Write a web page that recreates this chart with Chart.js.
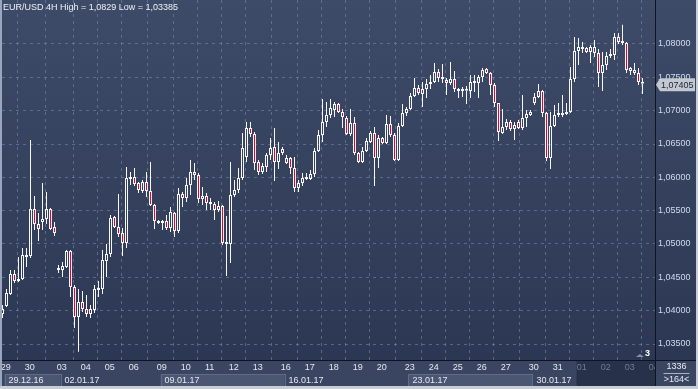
<!DOCTYPE html>
<html>
<head>
<meta charset="utf-8">
<script src="https://cdn.jsdelivr.net/npm/chart.js@4"></script>
<style>
  html, body { margin: 0; padding: 0; background: #c9ced6; }
  #wrap { position: absolute; left: 0; top: 0; width: 694px; height: 386px; border-left: 2px solid #9aa6bd; }
  canvas { display: block; }
</style>
</head>
<body>
<div id="wrap"><canvas id="eurusd" width="694" height="386"></canvas></div>
<script>
// EUR/USD 4H candles
var opens = [
  1.0395, 1.0407, 1.0425, 1.0455, 1.04445, 1.04475, 1.04835, 1.0482, 1.05525, 1.053,
  1.0533, 1.05375, 1.05525, 1.05255, 1.0461, 1.0461, 1.04655, 1.04895, 1.04355, 1.03905,
  1.0413, 1.04025, 1.0395, 1.0401, 1.0431, 1.04325, 1.04745, 1.0485, 1.05405, 1.05255,
  1.05165, 1.05015, 1.05975, 1.06005, 1.05915, 1.05795, 1.0593, 1.05795, 1.05585, 1.05315,
  1.05315, 1.05345, 1.0524, 1.05465, 1.05195, 1.0575, 1.0569, 1.05885, 1.0608, 1.06035,
  1.05675, 1.0572, 1.05615, 1.056, 1.0551, 1.0557, 1.05, 1.05, 1.05735, 1.0581,
  1.0599, 1.06305, 1.0674, 1.0665, 1.0623, 1.0608, 1.06155, 1.06335, 1.06455, 1.0623,
  1.06365, 1.06215, 1.0629, 1.0614, 1.0584, 1.05915, 1.06005, 1.05975, 1.0605, 1.06395,
  1.06635, 1.0683, 1.06935, 1.0701, 1.071, 1.0698, 1.0689, 1.0665, 1.06815, 1.06365,
  1.0623, 1.06395, 1.0653, 1.06665, 1.0629, 1.0659, 1.06515, 1.068, 1.06635, 1.0626,
  1.0677, 1.06965, 1.07025, 1.0722, 1.0734, 1.0725, 1.07325, 1.074, 1.0743, 1.0758,
  1.07505, 1.0746, 1.07415, 1.07475, 1.07325, 1.07295, 1.073, 1.07295, 1.07445, 1.07415,
  1.07505, 1.07625, 1.07565, 1.07385, 1.07115, 1.06665, 1.06755, 1.0683, 1.06725, 1.0683,
  1.0674, 1.0689, 1.06935, 1.07115, 1.07205, 1.07295, 1.06965, 1.0629, 1.0677, 1.06935,
  1.06935, 1.0695, 1.0698, 1.07475, 1.07895, 1.07925, 1.0794, 1.0788, 1.07865, 1.07865,
  1.07565, 1.07685, 1.0782, 1.07835, 1.08105, 1.08045, 1.08015, 1.07595, 1.0761, 1.07565,
  1.0743
];
var highs = [
  1.04085, 1.04325, 1.0461, 1.0461, 1.04805, 1.0494, 1.0494, 1.0656, 1.0572, 1.05465,
  1.05915, 1.0578, 1.0554, 1.0533, 1.04685, 1.0473, 1.0491, 1.0491, 1.04385, 1.04325,
  1.04295, 1.04235, 1.04085, 1.04385, 1.04445, 1.0491, 1.05, 1.05435, 1.0542, 1.0575,
  1.0524, 1.06155, 1.0608, 1.0614, 1.0593, 1.0596, 1.0608, 1.0623, 1.056, 1.0536,
  1.0536, 1.05435, 1.05555, 1.0548, 1.0584, 1.0578, 1.0599, 1.0626, 1.06215, 1.06065,
  1.05855, 1.05765, 1.0569, 1.0563, 1.05645, 1.05585, 1.0542, 1.0623, 1.0596, 1.0614,
  1.06665, 1.0683, 1.0683, 1.0668, 1.0626, 1.06215, 1.06365, 1.0659, 1.0674, 1.0653,
  1.06455, 1.06335, 1.06305, 1.06305, 1.0596, 1.06065, 1.06065, 1.0611, 1.0644, 1.0671,
  1.07175, 1.0713, 1.07175, 1.0713, 1.07115, 1.07025, 1.0692, 1.07025, 1.06905, 1.0638,
  1.06455, 1.0659, 1.06695, 1.06755, 1.06635, 1.06605, 1.06935, 1.0692, 1.06665, 1.06815,
  1.071, 1.07055, 1.07265, 1.0749, 1.07385, 1.0743, 1.07475, 1.07535, 1.07715, 1.07625,
  1.077, 1.0749, 1.0773, 1.07595, 1.0734, 1.07355, 1.0737, 1.07535, 1.07535, 1.07535,
  1.0764, 1.0764, 1.0758, 1.07415, 1.07115, 1.07025, 1.06875, 1.0686, 1.0683, 1.0686,
  1.07235, 1.0701, 1.0701, 1.07265, 1.074, 1.0731, 1.0698, 1.0698, 1.07085, 1.07115,
  1.07235, 1.07115, 1.07655, 1.08105, 1.0809, 1.0803, 1.07955, 1.07985, 1.0806, 1.07925,
  1.0788, 1.0788, 1.07925, 1.08165, 1.08165, 1.0829, 1.0803, 1.07655, 1.07715, 1.0764,
  1.0749
];
var lows = [
  1.0389, 1.04055, 1.04235, 1.04415, 1.0443, 1.0446, 1.04655, 1.0479, 1.0521, 1.05045,
  1.0521, 1.053, 1.0521, 1.0512, 1.04565, 1.04505, 1.0464, 1.04205, 1.0374, 1.03385,
  1.0398, 1.03905, 1.0389, 1.03965, 1.04205, 1.0425, 1.04505, 1.04805, 1.0524, 1.05105,
  1.0482, 1.0494, 1.05885, 1.0587, 1.05765, 1.05765, 1.05705, 1.0557, 1.05225, 1.053,
  1.0521, 1.0521, 1.0518, 1.05105, 1.05165, 1.05555, 1.0563, 1.05735, 1.0596, 1.05615,
  1.05585, 1.0551, 1.0551, 1.0536, 1.0548, 1.04985, 1.0452, 1.04715, 1.05705, 1.05765,
  1.0596, 1.0623, 1.06605, 1.0611, 1.06035, 1.0605, 1.0608, 1.0626, 1.05945, 1.06125,
  1.06335, 1.062, 1.0605, 1.0578, 1.0578, 1.0587, 1.0596, 1.0596, 1.06005, 1.0638,
  1.0653, 1.06755, 1.0689, 1.06905, 1.06965, 1.0674, 1.06635, 1.0662, 1.06335, 1.06215,
  1.06215, 1.0638, 1.06515, 1.0587, 1.0614, 1.065, 1.065, 1.06605, 1.06245, 1.06245,
  1.06755, 1.0692, 1.0701, 1.07205, 1.07235, 1.07055, 1.0719, 1.07325, 1.07415, 1.0743,
  1.07415, 1.07235, 1.07385, 1.0728, 1.0719, 1.07205, 1.071, 1.0719, 1.0728, 1.0719,
  1.0743, 1.0755, 1.07235, 1.07055, 1.06545, 1.0665, 1.0671, 1.06695, 1.0656, 1.06725,
  1.0671, 1.06755, 1.0692, 1.07085, 1.0719, 1.06905, 1.06245, 1.06125, 1.06755, 1.06905,
  1.06905, 1.06935, 1.06965, 1.0743, 1.07685, 1.07865, 1.07865, 1.07715, 1.07805, 1.07355,
  1.07295, 1.0761, 1.0779, 1.0776, 1.08, 1.07985, 1.07565, 1.07535, 1.07535, 1.07385,
  1.0725
];
var closes = [
  1.04025, 1.04265, 1.0455, 1.04445, 1.04475, 1.04835, 1.04805, 1.05525, 1.053, 1.05225,
  1.05375, 1.05525, 1.05225, 1.05165, 1.0464, 1.0467, 1.04895, 1.04355, 1.03905, 1.0413,
  1.04025, 1.0395, 1.04025, 1.04325, 1.0434, 1.0476, 1.0485, 1.0539, 1.05255, 1.0515,
  1.05015, 1.0599, 1.0599, 1.059, 1.0581, 1.0593, 1.05795, 1.05585, 1.05345, 1.05345,
  1.05345, 1.0524, 1.0548, 1.05195, 1.0575, 1.0569, 1.05885, 1.0608, 1.06035, 1.05675,
  1.0572, 1.05615, 1.056, 1.0551, 1.0557, 1.05015, 1.0503, 1.05735, 1.0581, 1.0599,
  1.0644, 1.0674, 1.0665, 1.06215, 1.0608, 1.0617, 1.06335, 1.0644, 1.0623, 1.06365,
  1.06425, 1.0629, 1.0614, 1.0584, 1.05915, 1.0599, 1.05975, 1.0605, 1.06395, 1.06635,
  1.0683, 1.06935, 1.0704, 1.071, 1.0698, 1.06905, 1.0665, 1.06815, 1.06365, 1.0623,
  1.06395, 1.06545, 1.06665, 1.0629, 1.0659, 1.06515, 1.068, 1.06635, 1.0626, 1.0677,
  1.06965, 1.07025, 1.0722, 1.0734, 1.07265, 1.07325, 1.074, 1.0743, 1.0758, 1.0749,
  1.07475, 1.07415, 1.07475, 1.07325, 1.07295, 1.073, 1.07305, 1.0743, 1.07415, 1.07505,
  1.0761, 1.07565, 1.07385, 1.07115, 1.0668, 1.06755, 1.0683, 1.06725, 1.06785, 1.0674,
  1.0689, 1.0695, 1.0698, 1.07205, 1.07295, 1.06965, 1.0629, 1.0677, 1.06935, 1.06965,
  1.06965, 1.0698, 1.07475, 1.07895, 1.07955, 1.0794, 1.0788, 1.07955, 1.07955, 1.07565,
  1.07685, 1.0782, 1.0785, 1.08105, 1.0803, 1.08015, 1.0761, 1.0764, 1.07565, 1.0743,
  1.07405
];

var dayLabels = ["29", "30", "03", "04", "05", "06", "09", "10", "11", "12", "13", "16", "17", "18",
  "19", "20", "23", "24", "25", "26", "27", "30", "31", "01", "02", "03", "04"];
var dayStarts = [0, 6, 14, 20, 26, 32, 39, 45, 51, 57, 63, 70, 76, 82,
  88, 94, 101, 107, 113, 119, 125, 132, 138, 144, 150, 156, 162];
var weekLabels = ["29.12.16", "02.01.17", "09.01.17", "16.01.17", "23.01.17", "30.01.17"];
var weekStarts = [0, 14, 39, 70, 101, 132];
var priceTicks = [1.035, 1.04, 1.045, 1.05, 1.055, 1.06, 1.065, 1.07, 1.075, 1.08];

var FONT = '9px "Liberation Sans", Arial, sans-serif';
var gridColor = "rgba(118, 134, 168, 0.6)";

// body, upper and lower wick as floating bars (note: "top" is taken by window.top)
var bodies = [], upWicks = [], downWicks = [], bodyFill = [];
for (var i = 0; i < opens.length; i++) {
  var bodyHi = Math.max(opens[i], closes[i]);
  var bodyLo = Math.min(opens[i], closes[i]);
  bodies.push({ x: i, y: [bodyLo, bodyHi] });
  upWicks.push({ x: i, y: [bodyHi, highs[i]] });
  downWicks.push({ x: i, y: [lows[i], bodyLo] });
  bodyFill.push(closes[i] < opens[i] ? "#e8002c" : "rgba(0,0,0,0)");
}

function fmt(v) {
  return v.toFixed(5).replace(".", ",");
}

var framePlugin = {
  id: "frame",
  beforeDraw: function (chart) {
    var c = chart.ctx, a = chart.chartArea, W = chart.width, H = chart.height;
    var xs = chart.scales.x;
    var g = c.createLinearGradient(0, 0, 0, a.bottom);
    g.addColorStop(0, "#3e4b68");
    g.addColorStop(1, "#2c3853");
    c.fillStyle = g;
    c.fillRect(0, 0, W, a.bottom);
    c.fillStyle = "#3a4661";
    c.fillRect(0, a.bottom, W, H - a.bottom);
    // week boxes
    for (var k = 0; k < weekStarts.length; k += 2) {
      var x0 = xs.getPixelForValue(weekStarts[k] + 0.5);
      var x1 = k + 1 < weekStarts.length ? xs.getPixelForValue(weekStarts[k + 1] + 0.5) : a.right;
      c.fillStyle = "#4a5672";
      c.fillRect(x0, 374, x1 - x0, H - 374);
      c.strokeStyle = "#5f6b88";
      c.lineWidth = 1;
      c.strokeRect(Math.round(x0) + 0.5, 374.5, Math.round(x1 - x0), H - 374);
    }
    var xf = xs.getPixelForValue(143.5);
    c.fillStyle = "#27314a";
    c.fillRect(xf, a.bottom + 1, a.right - xf, H - a.bottom);
  },
  afterDraw: function (chart) {
    var c = chart.ctx, a = chart.chartArea, W = chart.width, H = chart.height;
    var xs = chart.scales.x, ys = chart.scales.y;
    c.save();
    // separators
    c.strokeStyle = "#0e1422";
    c.lineWidth = 1;
    c.beginPath();
    c.moveTo(a.right + 0.5, 0);
    c.lineTo(a.right + 0.5, H);
    c.moveTo(0, a.bottom + 0.5);
    c.lineTo(W, a.bottom + 0.5);
    c.stroke();
    // bottom right cell
    c.fillStyle = "#3a4661";
    c.fillRect(a.right + 1, a.bottom + 1, W - a.right - 1, H - a.bottom - 1);
    c.font = FONT;
    c.textBaseline = "middle";
    c.textAlign = "center";
    c.fillStyle = "#e4e9f2";
    var cx = (a.right + W) / 2 + 1;
    c.fillText("1336", cx, 367);
    c.fillText(">164<", cx, 380);
    c.strokeStyle = "#aab3c4";
    c.beginPath();
    c.moveTo(cx - 13, 373.5);
    c.lineTo(cx + 13, 373.5);
    c.stroke();
    // week labels
    c.textAlign = "left";
    for (var k = 0; k < weekStarts.length; k++) {
      c.fillText(weekLabels[k], xs.getPixelForValue(weekStarts[k] + 0.5) + 4, 381);
    }
    // title
    c.fillStyle = "#eef1f6";
    c.fillText("EUR/USD 4H High = " + fmt(Math.max.apply(null, highs)).slice(0, 6) +
      " Low = " + fmt(Math.min.apply(null, lows)), 1, 8);
    // bar counter marker
    c.fillStyle = "#8a93a6";
    c.beginPath();
    c.moveTo(a.right - 19, 357);
    c.lineTo(a.right - 15, 354);
    c.lineTo(a.right - 11, 357);
    c.closePath();
    c.fill();
    c.fillStyle = "#ffffff";
    c.font = 'bold 9px "Liberation Sans", Arial, sans-serif';
    c.fillText("3", a.right - 10, 354);
    // last price tag
    var last = closes[closes.length - 1];
    var y = ys.getPixelForValue(last) + 1;
    c.fillStyle = "#c3c8d1";
    c.beginPath();
    c.moveTo(a.right + 1, y);
    c.lineTo(a.right + 5, y - 6.5);
    c.lineTo(W - 1, y - 6.5);
    c.lineTo(W - 1, y + 6.5);
    c.lineTo(a.right + 5, y + 6.5);
    c.closePath();
    c.fill();
    c.fillStyle = "#1b2232";
    c.font = FONT;
    c.fillText(fmt(last), a.right + 6, y + 0.5);
    c.restore();
  }
};

var ctx = document.getElementById("eurusd").getContext("2d");
var myChart = new Chart(ctx, {
  type: "bar",
  data: {
    datasets: [
      {
        data: bodies,
        backgroundColor: bodyFill,
        borderColor: "#f6f6f6",
        borderWidth: 1,
        borderSkipped: false,
        barThickness: 3,
        minBarLength: 2,
        inflateAmount: 0,
        grouped: false,
        order: 0,
      },
      {
        data: upWicks,
        backgroundColor: "#f6f6f6",
        borderWidth: 0,
        barThickness: 1,
        inflateAmount: 0,
        grouped: false,
        order: 1,
      },
      {
        data: downWicks,
        backgroundColor: "#f6f6f6",
        borderWidth: 0,
        barThickness: 1,
        inflateAmount: 0,
        grouped: false,
        order: 1,
      },
    ],
  },
  options: {
    responsive: false,
    animation: false,
    events: [],
    layout: { padding: 0 },
    plugins: { legend: { display: false }, tooltip: { enabled: false } },
    scales: {
      x: {
        type: "linear",
        offset: false,
        min: -0.125,
        max: 163.125,
        afterBuildTicks: function (scale) {
          scale.ticks = dayStarts.map(function (d) {
            return { value: d + 0.8 };
          });
        },
        afterFit: function (scale) {
          scale.height = 26;
          scale.paddingLeft = 0;
          scale.paddingRight = 0;
        },
        grid: { color: gridColor, drawTicks: false },
        border: { display: false, dash: [3, 4] },
        ticks: {
          autoSkip: false,
          maxRotation: 0,
          padding: 2,
          font: { family: '"Liberation Sans", Arial, sans-serif', size: 9 },
          color: function (c) {
            return c.index >= 23 ? "#6f7c98" : "#e4e9f2";
          },
          callback: function (value, index) {
            return dayLabels[index];
          },
        },
      },
      y: {
        position: "right",
        min: 1.0326,
        max: 1.0866,
        afterBuildTicks: function (scale) {
          scale.ticks = priceTicks.map(function (v) {
            return { value: v };
          });
        },
        afterFit: function (scale) {
          scale.width = 41;
          scale.paddingTop = 0;
          scale.paddingBottom = 0;
        },
        grid: { color: gridColor, drawTicks: false },
        border: { display: false, dash: [3, 4] },
        ticks: {
          padding: 3,
          font: { family: '"Liberation Sans", Arial, sans-serif', size: 9 },
          color: "#cfdbee",
          callback: function (value) {
            return fmt(value);
          },
        },
      },
    },
  },
  plugins: [framePlugin],
});
</script>
</body>
</html>
